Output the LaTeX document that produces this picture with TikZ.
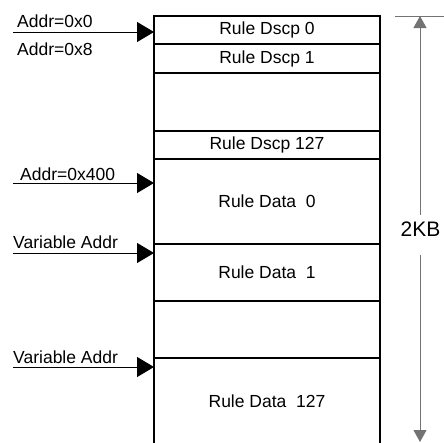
\documentclass[tikz,border=0pt]{standalone}
\usepackage{fontspec}
\setmainfont{Liberation Sans}
\usetikzlibrary{arrows.meta,positioning}

\newcommand{\lblfont}{\fontsize{17.5}{20}\selectfont}
\newcommand{\kbfont}{\fontsize{21}{24}\selectfont}

\begin{document}
\begin{tikzpicture}[x=1pt,y=-1pt,
  row/.style={draw,line width=2pt,minimum width=226pt,inner sep=0pt,outer sep=0pt,font=\lblfont},
  lbl/.style={anchor=base west,inner sep=0pt,font=\lblfont},
  ptr/.style={line width=0.9pt,-{Triangle[length=17pt,width=20pt]}},
  dim/.style={draw=black!55,line width=0.9pt}]
  \clip (0,0) rectangle (444,442);
  % memory rows
  \node (dscp0) [row,minimum height=28pt,anchor=north west] at (154,16) {Rule Dscp 0};
  \node (dscp1) [row,minimum height=29pt,below=0pt of dscp0] {Rule Dscp 1};
  \node (gap0) [row,minimum height=58pt,below=0pt of dscp1] {};
  \node (dscp127) [row,minimum height=28pt,below=0pt of gap0] {Rule Dscp 127};
  \node (data0) [row,minimum height=85pt,below=0pt of dscp127] {Rule Data\ \ 0};
  \node (data1) [row,minimum height=57pt,below=0pt of data0] {Rule Data\ \ 1};
  \node (gap1) [row,minimum height=57pt,below=0pt of data1] {};
  \node (data127) [row,minimum height=100pt,anchor=north west] at (gap1.south west) {};
  \node (txt127) [font=\lblfont] at (267,401) {Rule Data\ \ 127};
  %
  % addresses
  \node (a0) [lbl] at (17,27) {Addr=0x0};
  \node (a8) [lbl] at (17,55) {Addr=0x8};
  \node (a400) [lbl] at (20,180) {Addr=0x400};
  \node (va1) [lbl] at (13,248) {Variable Addr};
  \node (va2) [lbl] at (13,363) {Variable Addr};
  \coordinate (in0) at (13,32);
  \coordinate (in400) at (13,183);
  \coordinate (inv1) at (13,253);
  \coordinate (inv2) at (13,367);
  \draw[ptr] (in0) -- (dscp0.west |- in0);
  \draw[ptr] (in400) -- (data0.west |- in400);
  \draw[ptr] (inv1) -- (data1.west |- inv1);
  \draw[ptr] (inv2) -- (data127.west |- inv2);
  %
  % size
  \coordinate (tickl) at (395,16);
  \coordinate (tickr) at (444,16);
  \coordinate (dimtop) at (420,16);
  \coordinate (dimhi) at (420,215);
  \coordinate (dimlo) at (420,255);
  \coordinate (dimbot) at (420,442);
  \node (size) [font=\kbfont,inner sep=0pt] at (420.5,229.5) {2KB};
  \draw[dim] (tickl) -- (tickr);
  \draw[dim,-{Triangle[length=12pt,width=13pt]}] (dimhi) -- (dimtop);
  \draw[dim,-{Triangle[length=12pt,width=13pt]}] (dimlo) -- (dimbot);
\end{tikzpicture}
\end{document}
